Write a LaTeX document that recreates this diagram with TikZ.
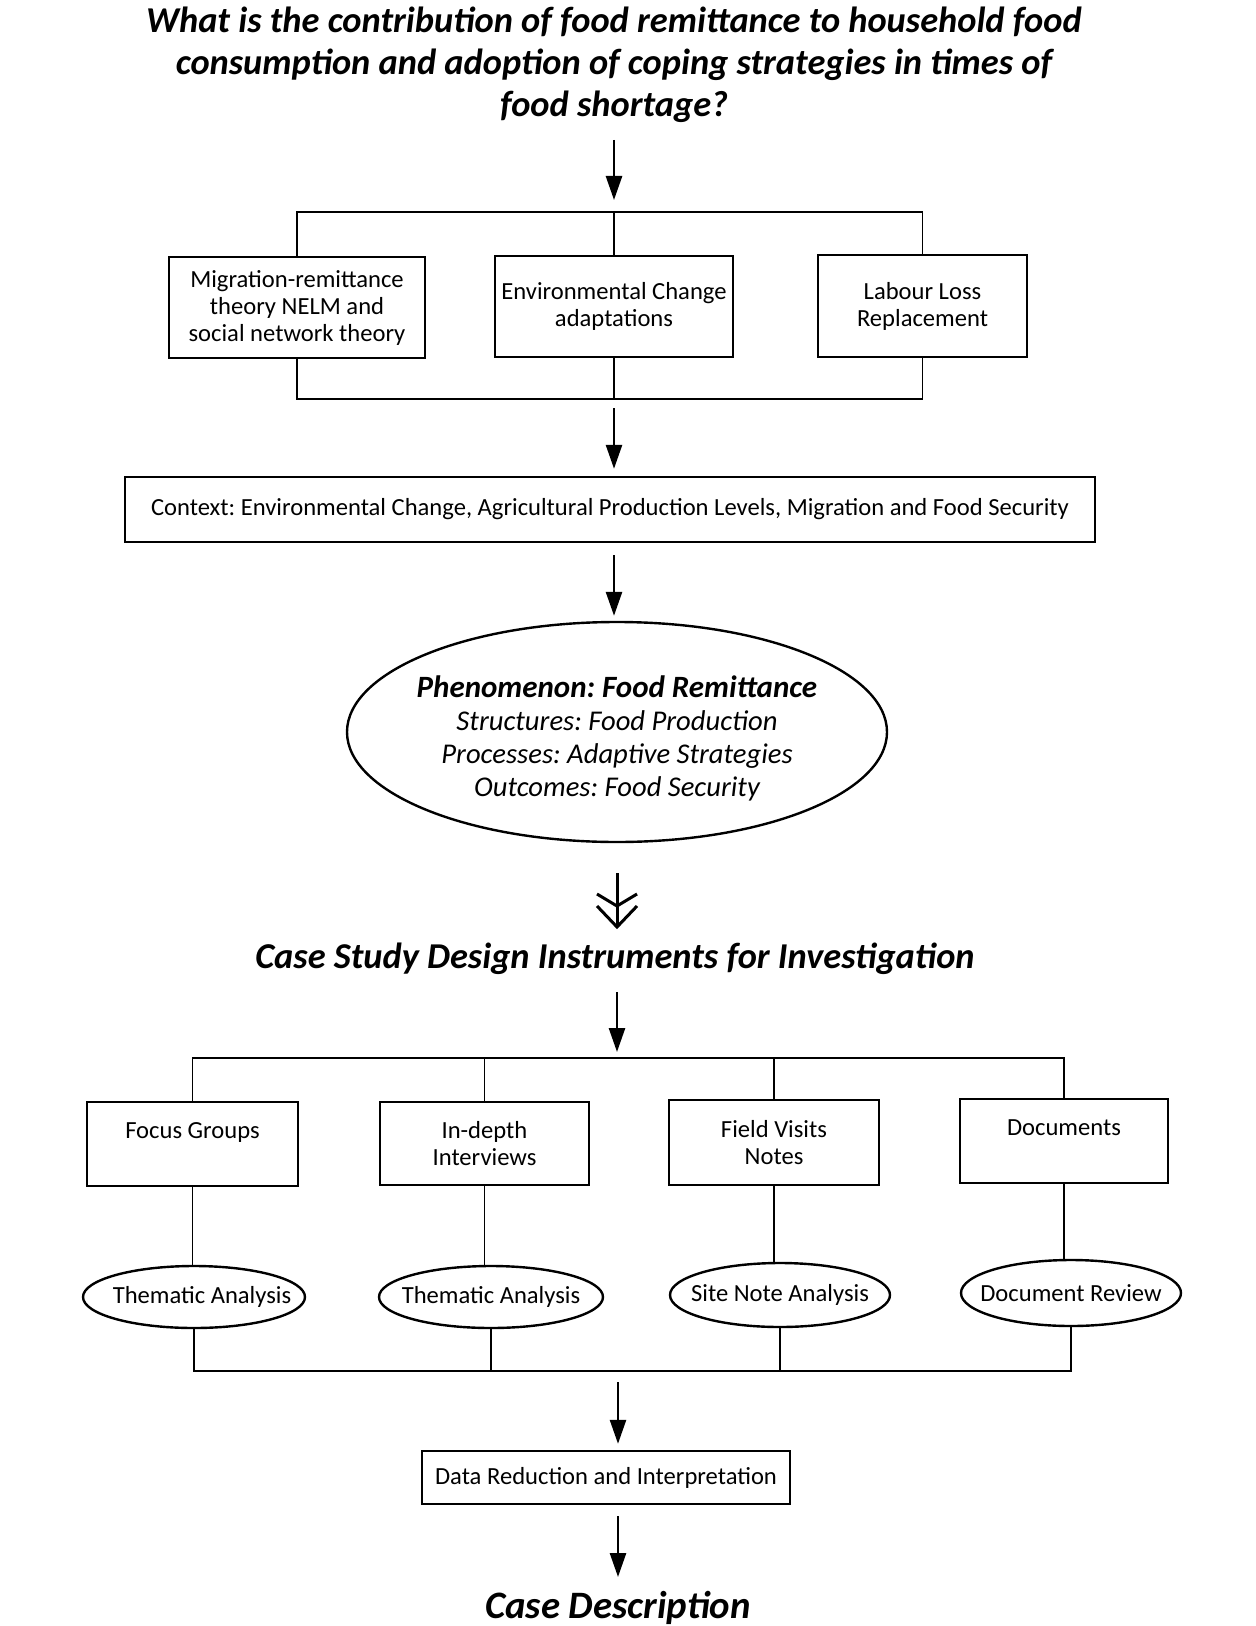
\documentclass[tikz,border=0pt]{standalone}
\usepackage{fontspec}
\setmainfont{Carlito}
\usetikzlibrary{shapes.geometric,arrows.meta}
\begin{document}
\frenchspacing
\begin{tikzpicture}[x=0.5pt,y=-0.5pt,
  box/.style={draw, line width=1.2pt, inner sep=0pt, align=center, font=\fontsize{12.3}{13.5}\selectfont},
  oval/.style={draw, ellipse, line width=1.2pt, inner sep=0pt},
  lbl/.style={align=center, inner sep=0pt, font=\fontsize{12.3}{13.5}\selectfont},
  conn/.style={line width=0.8pt},
  arr/.style={line width=1.3pt, -{Triangle[length=12pt,width=8pt]}},
  chev/.style={line width=1.5pt},
  ttl/.style={font=\fontsize{18.2}{21}\bfseries\itshape\selectfont, align=center, inner sep=0pt}
]
\useasboundingbox[fill=white] (0,0) rectangle (1256,1626);

% title
\node[ttl] (title) at (614,65) {What is the contribution of food remittance to household food\\consumption and adoption of coping strategies in times of\\food shortage?};
\coordinate (a1) at (614,140);
\coordinate (busA) at (614,212);
\coordinate (busB) at (614,399);

% first row of boxes
\node[box, minimum width=128pt, minimum height=50.5pt] (b1) at (297,307.5) {Migration-remittance\\theory NELM and\\social network theory};
\node[box, minimum width=119pt, minimum height=50.5pt] (b2) at (614,306.5) {Environmental Change\\adaptations};
\node[box, minimum width=104.5pt, minimum height=51pt] (b3) at (922.5,306) {Labour Loss\\Replacement};

\draw[arr, shorten >=6pt] (a1) -- (busA);
\draw[conn] (b1.north) |- (busA) -| (b3.north);
\draw[conn] (busA) -- (b2.north);
\draw[conn] (b1.south) |- (busB) -| (b3.south);
\draw[conn] (b2.south) -- (busB);

% context
\node[box, minimum width=485pt, minimum height=32.5pt] (ctx) at (610,509.5) {Context: Environmental Change, Agricultural Production Levels, Migration and Food Security};
\draw[arr, shorten <=4.5pt, shorten >=3.5pt] (busB) -- (busB |- ctx.north);

% phenomenon ellipse
\node[oval, minimum width=270pt, minimum height=110pt,
  label={[align=center, inner sep=0pt, yshift=-3pt, font=\fontsize{14.3}{16.5}\itshape\selectfont]center:{{\fontsize{15.5}{16.5}\bfseries Phenomenon: Food Remittance}\\Structures: Food Production\\Processes: Adaptive Strategies\\Outcomes: Food Security}}] (ell) at (617,732) {};
\draw[arr, shorten <=6pt, shorten >=2.5pt] (busB |- ctx.south) -- (busB |- ell.north);

% double chevron arrow
\coordinate (d2) at (617,927);
\draw[chev, shorten <=15pt] (ell.south) -- (d2);
\draw[chev] (d2) ++(-20,-21) -- (d2) -- ++(20,-21);
\draw[chev] (d2) ++(-20,-33) -- ++(20,12) -- ++(20,-12);

\node[ttl, text height=13pt, text depth=4pt] (cs) at (615,959) {Case Study Design Instruments for Investigation};
\coordinate (bus2) at (617,1058);
\draw[arr, shorten <=8pt, shorten >=3pt] (cs.south -| bus2) -- (bus2);

% second row of boxes
\node[box, minimum width=105.5pt, minimum height=42pt] (f1) at (192.5,1144) {Focus Groups\\\mbox{}};
\node[box, minimum width=104.5pt, minimum height=41.5pt] (f2) at (484.5,1143.5) {In-depth\\Interviews};
\node[box, minimum width=105pt, minimum height=42.5pt] (f3) at (774,1142.5) {Field Visits\\Notes};
\node[box, minimum width=104pt, minimum height=42pt] (f4) at (1064,1141) {Documents\\\mbox{}};

\draw[conn] (f1.north) |- (bus2) -| (f4.north);
\draw[conn] (f2.north) -- (f2.north |- bus2);
\draw[conn] (f3.north) -- (f3.north |- bus2);

% analysis ellipses
\node[oval, minimum width=111pt, minimum height=31pt, label={[lbl, xshift=4pt]center:Thematic Analysis}] (e1) at (194,1297) {};
\node[oval, minimum width=112pt, minimum height=31pt, label={[lbl]center:Thematic Analysis}] (e2) at (491,1297) {};
\node[oval, minimum width=110pt, minimum height=32pt, label={[lbl]center:Site Note Analysis}] (e3) at (780,1295) {};
\node[oval, minimum width=110pt, minimum height=33pt, label={[lbl]center:Document Review}] (e4) at (1071,1293) {};

\draw[conn] (f1.south) -- (f1.south |- e1.north);
\draw[conn] (f2.south) -- (f2.south |- e2.north);
\draw[conn] (f3.south) -- (f3.south |- e3.north);
\draw[conn] (f4.south) -- (f4.south |- e4.north);

\coordinate (bus3) at (618,1371);
\draw[conn] (e1.south) |- (bus3) -| (e4.south);
\draw[conn] (e2.south) -- (e2.south |- bus3);
\draw[conn] (e3.south) -- (e3.south |- bus3);

% data reduction
\node[box, minimum width=184pt, minimum height=26.5pt] (data) at (606,1477.5) {Data Reduction and Interpretation};
\draw[arr, shorten <=5.5pt, shorten >=3pt] (bus3) -- (bus3 |- data.north);
\coordinate (a6) at (618,1577);
\draw[arr, shorten <=5.5pt] (bus3 |- data.south) -- (a6);

\node[ttl, font=\fontsize{19.4}{22}\bfseries\itshape\selectfont] (cd) at (618,1608) {Case Description};
\end{tikzpicture}
\end{document}
